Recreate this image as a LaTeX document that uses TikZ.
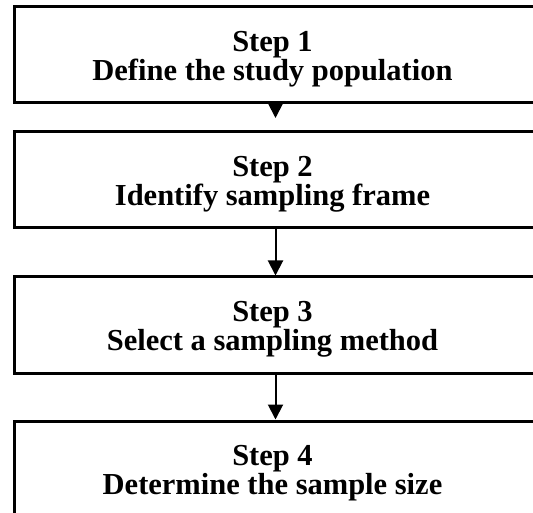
\documentclass[tikz,border=0pt]{standalone}
\usepackage{fontspec}
\setmainfont{Liberation Serif}
\usetikzlibrary{arrows.meta}

\tikzset{
  stepbox/.style={draw=black, line width=3pt, rectangle, inner sep=0pt,
    minimum width=523pt, minimum height=96pt},
  steptext/.style={align=center, inner sep=0pt,
    font=\bfseries\fontsize{30.5}{29}\selectfont},
  flow/.style={line width=2pt, -{Triangle[length=15pt,width=15pt]}}
}

\begin{document}
\begin{tikzpicture}[x=1pt,y=-1pt]
  \useasboundingbox[fill=white] (0,0) rectangle (533,513);

  % the four stacked step boxes
  \node[stepbox] (b1) at (275.5,55)  {};
  \node[stepbox] (b2) at (275.5,180) {};
  \node[stepbox] (b3) at (275.5,325) {};
  \node[stepbox] (b4) at (275.5,469) {};

  % box captions
  \node[steptext] (t1) at ([xshift=-3pt,yshift=-4pt]b1.center) {Step 1\\Define the study population};
  \node[steptext] (t2) at ([xshift=-3pt,yshift=-4pt]b2.center) {Step 2\\Identify sampling frame};
  \node[steptext] (t3) at ([xshift=-3pt,yshift=-4pt]b3.center) {Step 3\\Select a sampling method};
  \node[steptext] (t4) at ([xshift=-3pt,yshift=-4pt]b4.center) {Step 4\\Determine the sample size};

  % connectors
  \coordinate (a1end) at (275.5,118);
  \draw[flow] (b1.south) -- (a1end);
  \draw[flow] (b2.south) -- (b3.north);
  \draw[flow] (b3.south) -- (b4.north);
\end{tikzpicture}
\end{document}
